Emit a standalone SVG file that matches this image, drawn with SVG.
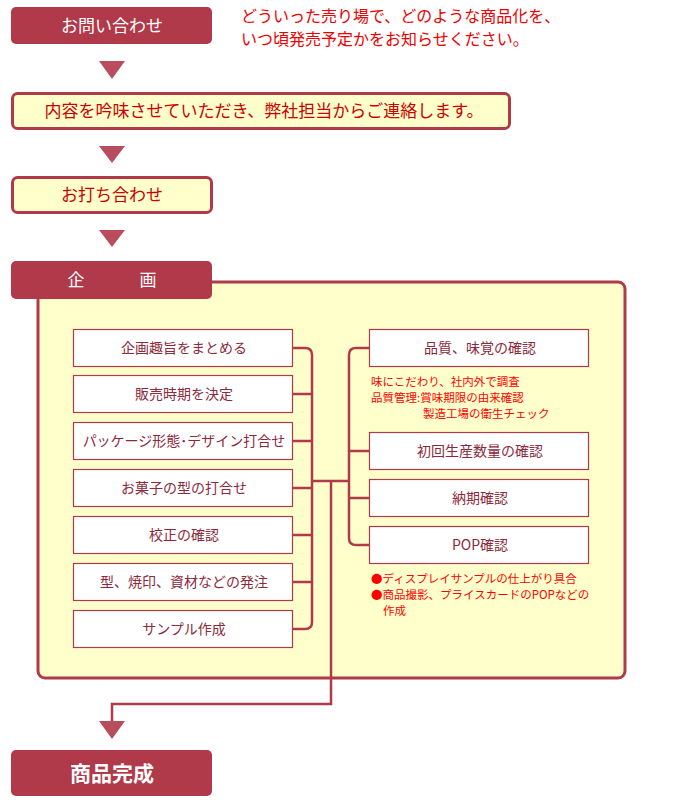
<svg xmlns="http://www.w3.org/2000/svg" width="680" height="802" viewBox="0 0 680 802">
<defs>
<style>
text{font-family:"Noto Sans CJK JP","Noto Sans",sans-serif}
.dark{fill:#b13a4a}
.arrow{fill:#b94d5e}
.wt{fill:#ffffff;font-size:17px;text-anchor:middle}
.yb{fill:#ffffcc;stroke:#b13a4a;stroke-width:3}
.rt{fill:#cc0000;font-size:17px;text-anchor:middle}
.box{fill:#ffffff;stroke:#b13a4a;stroke-width:1.2}
.bt{fill:#8c2a3c;font-size:14px;text-anchor:middle}
.note{fill:#ff0000;font-size:11.5px}
.con{fill:none;stroke:#b13a4a;stroke-width:2.5}
</style>
</defs>
<rect width="680" height="802" fill="#ffffff"/>

<g id="inquiry">
<rect class="dark" x="11" y="7" width="201" height="37" rx="5"/>
<text class="wt" x="112" y="32">お問い合わせ</text>
</g>
<g id="inquiry-note">
<text x="241" y="22" fill="#ee0000" font-size="16">どういった売り場で、どのような商品化を、</text>
<text x="241" y="45" fill="#ee0000" font-size="16">いつ頃発売予定かをお知らせください。</text>
</g>

<g id="review">
<rect class="yb" x="12.5" y="93.5" width="497" height="35" rx="5"/>
<text class="rt" x="264" y="117">内容を吟味させていただき、弊社担当からご連絡します。</text>
</g>

<g id="meeting">
<rect class="yb" x="12.5" y="177.5" width="199" height="35" rx="5"/>
<text class="rt" x="112" y="201">お打ち合わせ</text>
</g>

<g id="planning-panel">
<rect class="yb" x="38" y="282" width="587" height="396" rx="7"/>
</g>

<g id="planning">
<rect class="dark" x="11" y="261" width="201" height="38" rx="5"/>
<text class="wt" x="76" y="286">企</text>
<text class="wt" x="148" y="286">画</text>
</g>

<g id="connectors">
<polygon class="arrow" points="99,61 125,61 112,79"/>
<polygon class="arrow" points="99,146 125,146 112,163"/>
<polygon class="arrow" points="99,230 125,230 112,247"/>
<path class="con" d="M293,348 H305 Q312,348 312,355 V622 Q312,629 305,629 H293"/>
<path class="con" d="M293,394 H312 M293,441 H312 M293,488 H312 M293,535 H312 M293,582 H312"/>
<path class="con" d="M312,481 H349"/>
<path class="con" d="M369,348 H356 Q349,348 349,355 V538 Q349,545 356,545 H369"/>
<path class="con" d="M349,451 H369 M349,498 H369"/>
<path class="con" d="M331,481 V704 H112 V724" stroke-width="2"/>
<polygon class="arrow" points="99,721 125,721 112,739"/>
</g>

<g id="l1"><rect class="box" x="73.5" y="329.5" width="219" height="37"/><text class="bt" x="184" y="353">企画趣旨をまとめる</text></g>
<g id="l2"><rect class="box" x="73.5" y="375.5" width="219" height="37"/><text class="bt" x="184" y="399">販売時期を決定</text></g>
<g id="l3"><rect class="box" x="73.5" y="422.5" width="219" height="37"/><text class="bt" x="184" y="446">パッケージ形態･デザイン打合せ</text></g>
<g id="l4"><rect class="box" x="73.5" y="469.5" width="219" height="37"/><text class="bt" x="184" y="493">お菓子の型の打合せ</text></g>
<g id="l5"><rect class="box" x="73.5" y="516.5" width="219" height="37"/><text class="bt" x="184" y="540">校正の確認</text></g>
<g id="l6"><rect class="box" x="73.5" y="563.5" width="219" height="37"/><text class="bt" x="184" y="587">型、焼印、資材などの発注</text></g>
<g id="l7"><rect class="box" x="73.5" y="610.5" width="219" height="37"/><text class="bt" x="184" y="634">サンプル作成</text></g>

<g id="r1"><rect class="box" x="369.5" y="329.5" width="219" height="37"/><text class="bt" x="480" y="353">品質、味覚の確認</text></g>
<g id="r1-note">
<text class="note" x="371" y="386">味にこだわり、社内外で調査</text>
<text class="note" x="371" y="402">品質管理:賞味期限の由来確認</text>
<text class="note" x="423" y="418">製造工場の衛生チェック</text>
</g>
<g id="r2"><rect class="box" x="369.5" y="432.5" width="219" height="37"/><text class="bt" x="480" y="456">初回生産数量の確認</text></g>
<g id="r3"><rect class="box" x="369.5" y="479.5" width="219" height="37"/><text class="bt" x="480" y="503">納期確認</text></g>
<g id="r4"><rect class="box" x="369.5" y="526.5" width="219" height="37"/><text class="bt" x="480" y="550">POP確認</text></g>
<g id="r4-note">
<text class="note" x="371" y="583">●ディスプレイサンプルの仕上がり具合</text>
<text class="note" x="371" y="599">●商品撮影、プライスカードのPOPなどの</text>
<text class="note" x="383" y="615">作成</text>
</g>

<g id="complete">
<rect class="dark" x="11" y="750" width="201" height="46" rx="5"/>
<text x="112" y="781" fill="#ffffff" font-size="21" font-weight="bold" text-anchor="middle">商品完成</text>
</g>
</svg>
